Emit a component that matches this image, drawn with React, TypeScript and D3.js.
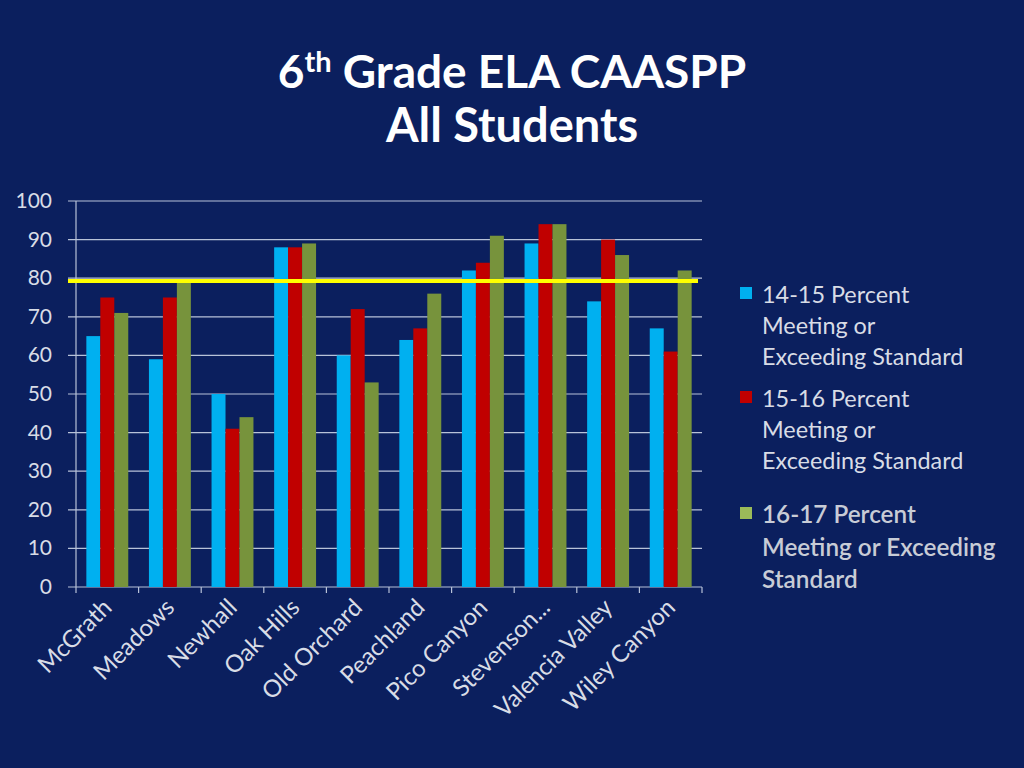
import React from "react";
import * as d3 from "d3";

const categories = ["McGrath", "Meadows", "Newhall", "Oak Hills", "Old Orchard", "Peachland", "Pico Canyon", "Stevenson...", "Valencia Valley", "Wiley Canyon"];
const series1415 = [65, 59, 50, 88, 60, 64, 82, 89, 74, 67];
const series1516 = [75, 75, 41, 88, 72, 67, 84, 94, 90, 61];
const series1617 = [71, 79, 44, 89, 53, 76, 91, 94, 86, 82];
const seriesNames = ["14-15 Percent Meeting or Exceeding Standard", "15-16 Percent Meeting or Exceeding Standard", "16-17 Percent Meeting or Exceeding Standard"];
const yTicks = [0, 10, 20, 30, 40, 50, 60, 70, 80, 90, 100];
const targetValue = 79.3;

const colors = ["#00B0F0", "#C00000", "#77933C"];
const FONT = "Lato, 'Open Sans', sans-serif";

export default function App() {
  const W = 1024, H = 768;
  const left = 76, right = 702, top = 201, bottom = 587;
  const x = d3.scaleBand<string>().domain(categories).range([left, right]).paddingInner(0).paddingOuter(0);
  const y = d3.scaleLinear().domain([0, 100]).range([bottom, top]);
  const seriesData = [series1415, series1516, series1617];
  const inner = d3.scaleBand<number>().domain([0, 1, 2]).range([0, x.bandwidth()]).paddingInner(0).paddingOuter(0.74);

  const legendLines = [
    ["14-15 Percent", "Meeting or", "Exceeding Standard"],
    ["15-16 Percent", "Meeting or", "Exceeding Standard"],
    ["16-17 Percent", "Meeting or Exceeding", "Standard"],
  ];
  const legendTops = [295, 399, 515];

  return (
    <svg width={W} height={H} style={{ display: "block", position: "absolute", left: 0, top: 0 }} viewBox={`0 0 ${W} ${H}`}>
      <rect x={0} y={0} width={W} height={H} fill="#0B1F5E" />
      <text x={512} y={88} textAnchor="middle" fill="#fff" fontFamily={FONT} fontWeight={700} fontSize={46}>
        6<tspan dy={-16} fontSize={29}>th</tspan><tspan dy={16}> Grade ELA CAASPP</tspan>
      </text>
      <text x={512} y={142} textAnchor="middle" fill="#fff" fontFamily={FONT} fontWeight={700} fontSize={47}>All Students</text>

      {yTicks.map(t => (
        <g key={t}>
          <line x1={68} x2={right} y1={y(t)} y2={y(t)} stroke="#B8C2D8" strokeWidth={1.2} />
          <text x={52} y={y(t) + 7} textAnchor="end" fill="#D8DCE6" fontFamily={FONT} fontSize={21}>{t}</text>
        </g>
      ))}
      <line x1={left} x2={left} y1={top} y2={bottom + 6} stroke="#B8C2D8" strokeWidth={1.2} />
      {categories.map((c, i) => (
        <line key={c} x1={(x(c) as number) + x.bandwidth()} x2={(x(c) as number) + x.bandwidth()} y1={bottom} y2={bottom + 6} stroke="#B8C2D8" strokeWidth={1.2} />
      ))}

      {categories.map((c, i) => (
        <g key={c}>
          {seriesData.map((s, k) => (
            <rect key={k} x={(x(c) as number) + (inner(k) as number)} y={y(s[i])} width={inner.bandwidth()} height={bottom - y(s[i])} fill={colors[k]} />
          ))}
        </g>
      ))}

      <line x1={68} x2={698} y1={y(targetValue)} y2={y(targetValue)} stroke="#FFFF00" strokeWidth={4} />

      {categories.map(c => {
        const cx = (x(c) as number) + x.bandwidth() / 2 + 6;
        const cy = 609;
        return (
          <text key={c} x={cx} y={cy} transform={`rotate(-45 ${cx} ${cy})`} textAnchor="end" fill="#D8DCE6" fontFamily={FONT} fontSize={24}>{c}</text>
        );
      })}

      {legendLines.map((lines, k) => (
        <g key={k}>
          <rect x={740} y={legendTops[k] - 8} width={12} height={12} fill={k === 2 ? "#9BBB59" : colors[k]} />
          {lines.map((ln, j) => (
            <text key={j} x={762} y={legendTops[k] + 8 + j * (k === 2 ? 32.5 : 31)} fill={k === 2 ? "#C8CCD6" : "#D8DCE6"} fontFamily={FONT} fontSize={k === 2 ? 24.3 : 23.4} fontWeight={k === 2 ? 600 : 400}>{ln}</text>
          ))}
        </g>
      ))}
    </svg>
  );
}
